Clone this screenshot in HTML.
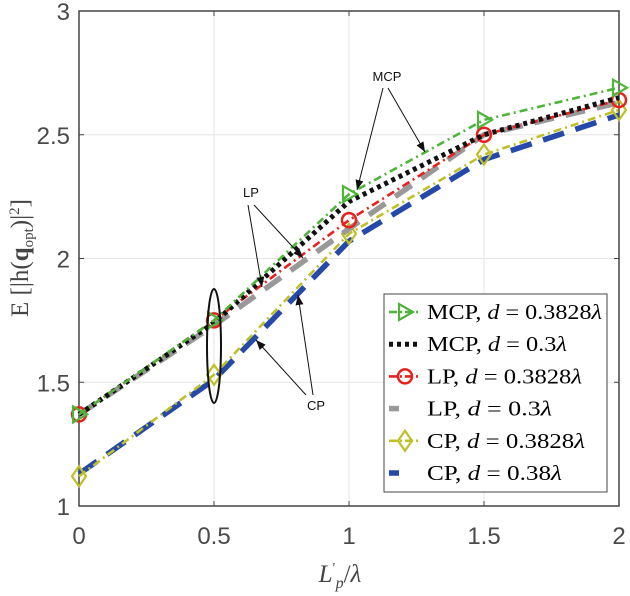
<!DOCTYPE html>
<html><head><meta charset="utf-8"><style>
body{margin:0;background:#fff}
svg{display:block;font-family:"Liberation Sans",sans-serif}
.tk{font-size:24px;fill:#4a4a4a}
.lg{font-family:"Liberation Serif",serif;font-size:21px;fill:#000}
</style></head><body>
<svg id="c" width="630" height="596">
<g id="grid"></g>
<g id="series"></g>
<g id="ann"></g>
<g id="legend"></g>
</svg>
<script>
const xVals=[0,0.5,1,1.5,2];
const mcp38=[1.37,1.75,2.26,2.56,2.69];
const mcp30=[1.37,1.74,2.23,2.50,2.65];
const lp38=[1.37,1.75,2.155,2.50,2.64];
const lp30=[1.37,1.73,2.12,2.50,2.63];
const cp38=[1.12,1.53,2.10,2.42,2.60];
const cp38b=[1.13,1.51,2.07,2.40,2.58];
const xTicks=[0,0.5,1,1.5,2];
const yTicks=[1,1.5,2,2.5,3];
const yTickLabels=["1","1.5","2","2.5","3"];
const xTickLabels=["0","0.5","1","1.5","2"];
const NS="http://www.w3.org/2000/svg";
const X0=79,X1=619,Y0=506,Y1=11;
const sx=v=>X0+(v-0)/2*(X1-X0);
const sy=v=>Y0-(v-1)/2*(Y0-Y1);
function mk(t,a,p){const e=document.createElementNS(NS,t);for(const k in a)e.setAttribute(k,a[k]);(p||document.getElementById('c')).appendChild(e);return e;}
const grid=document.getElementById('grid');
xTicks.forEach((v,i)=>{
 const l=mk('line',{x1:sx(v),x2:sx(v),y1:Y1,y2:Y0,stroke:'#e6e6e6','stroke-width':1},grid);
 
 
 mk('line',{x1:sx(v),x2:sx(v),y1:Y0,y2:Y0-5,stroke:'#444'},grid);
 mk('line',{x1:sx(v),x2:sx(v),y1:Y1,y2:Y1+5,stroke:'#444'},grid);
 const t=mk('text',{x:sx(v),y:Y0+38,'text-anchor':'middle',class:'tk'},grid);
 t.textContent=xTickLabels[i];
 
 
});
yTicks.forEach((v,i)=>{
 const l=mk('line',{x1:X0,x2:X1,y1:sy(v),y2:sy(v),stroke:'#e6e6e6','stroke-width':1},grid);
 
 
 mk('line',{x1:X0,x2:X0+5,y1:sy(v),y2:sy(v),stroke:'#444'},grid);
 mk('line',{x1:X1,x2:X1-5,y1:sy(v),y2:sy(v),stroke:'#444'},grid);
 const t=mk('text',{x:X0-9,y:sy(v)+9,'text-anchor':'end',class:'tk'},grid);
 t.textContent=yTickLabels[i];
 
 
});
const fr=mk('rect',{x:X0,y:Y1,width:X1-X0,height:Y0-Y1,fill:'none',stroke:'#444','stroke-width':1.5},grid);


const S=document.getElementById('series');
function marker(kind,x,y,col,p){
 if(kind==='tri')mk('polygon',{points:`${x-6},${y-8} ${x-6},${y+8} ${x+8},${y}`,fill:'none',stroke:col,'stroke-width':2.2},p);
 if(kind==='circ')mk('circle',{cx:x,cy:y,r:7,fill:'none',stroke:col,'stroke-width':2.5},p);
 if(kind==='dia')mk('polygon',{points:`${x},${y-10} ${x+7},${y} ${x},${y+10} ${x-7},${y}`,fill:'none',stroke:col,'stroke-width':2.2},p);
}
const series=[
 {d:cp38b,col:'#2449a8',w:5.5,dash:'22 12',m:null,name:'series-cp-0.38'},
 {d:cp38,col:'#bfbf26',w:2.6,dash:'8 4 2 4',m:'dia',name:'series-cp-0.3828'},
 {d:lp30,col:'#999',w:5.5,dash:'20 12',m:null,name:'series-lp-0.3'},
 {d:lp38,col:'#e8201e',w:2.6,dash:'8 4 2 4',m:'circ',name:'series-lp-0.3828'},
 {d:mcp30,col:'#111',w:5,dash:'4 4',m:null,name:'series-mcp-0.3'},
 {d:mcp38,col:'#4fb43a',w:2.6,dash:'8 4 2 4',m:'tri',name:'series-mcp-0.3828'}
];
series.forEach(s=>{
 const g=mk('g',{},S);
 
 
 mk('polyline',{points:xVals.map((x,i)=>sx(x)+','+sy(s.d[i])).join(' '),fill:'none',stroke:s.col,'stroke-width':s.w,'stroke-dasharray':s.dash},g);
 if(s.m)xVals.forEach((x,i)=>marker(s.m,sx(x),sy(s.d[i]),s.col,g));
});
const A=document.getElementById('ann');
const defs=mk('defs',{},A);
const mkr=mk('marker',{id:'ar',markerWidth:10,markerHeight:8,refX:10,refY:4,orient:'auto',markerUnits:'userSpaceOnUse'},defs);
mk('polygon',{points:'0,0 10,4 0,8',fill:'#111'},mkr);
[[383,88,357,190],[388,88,425,152],[248,205,262,287],[254,205,303,258],[306,395,256,340],[313,395,298,295]].forEach(a=>{
 mk('line',{x1:a[0],y1:a[1],x2:a[2],y2:a[3],stroke:'#111','stroke-width':1,'marker-end':'url(#ar)'},A);
});
[['MCP',387,81],['LP',251,197],['CP',316,410]].forEach(t=>{
 const e=mk('text',{x:t[1],y:t[2],'text-anchor':'middle','font-size':13,fill:'#111'},A);e.textContent=t[0];
 
 
});
mk('ellipse',{cx:214,cy:346,rx:7,ry:57,fill:'none',stroke:'#111','stroke-width':2},A);
const L=document.getElementById('legend');
mk('rect',{x:384,y:294,width:223,height:198,fill:'#fff',stroke:'#444','stroke-width':1},L);
const labels=['MCP, <tspan font-style="italic">d</tspan> = 0.3828<tspan font-style="italic">λ</tspan>','MCP, <tspan font-style="italic">d</tspan> = 0.3<tspan font-style="italic">λ</tspan>','LP, <tspan font-style="italic">d</tspan> = 0.3828<tspan font-style="italic">λ</tspan>','LP, <tspan font-style="italic">d</tspan> = 0.3<tspan font-style="italic">λ</tspan>','CP, <tspan font-style="italic">d</tspan> = 0.3828<tspan font-style="italic">λ</tspan>','CP, <tspan font-style="italic">d</tspan> = 0.38<tspan font-style="italic">λ</tspan>'];
const order=[5,4,3,2,1,0];
order.forEach((si,r)=>{
 const s=series[si];const y=312+r*32.2;
 const g=mk('g',{},L);
 
 
 mk('line',{x1:389,x2:420,y1:y,y2:y,stroke:s.col,'stroke-width':s.w,'stroke-dasharray':s.m?'8 3 2 3':(si===4?'4 4':'10 100')},g);
 if(s.m)marker(s.m,405,y,s.col,g);
 const t=mk('text',{x:427,y:y+7,class:'lg',textLength:(r===1||r===3||r===5)?(r===5?135:(r===1?140:125)):(r===0?175:(r===2?155:158)),lengthAdjust:'spacingAndGlyphs'},g);t.innerHTML=labels[r];
});
const yl=mk('text',{transform:'translate(28,258) rotate(-90)','text-anchor':'middle','font-family':'Liberation Serif, serif','font-size':25,fill:'#444'});
yl.innerHTML='E [|h(<tspan font-weight="bold">q</tspan><tspan font-size="15" dy="5">opt</tspan><tspan dy="-5">)|</tspan><tspan font-size="15" dy="-9">2</tspan><tspan dy="9">]</tspan>';


const xl=mk('text',{x:340,y:582,'text-anchor':'middle','font-family':'Liberation Serif, serif','font-size':25,fill:'#444'});
xl.innerHTML='<tspan font-style="italic">L</tspan><tspan font-size="14" dy="-10">′</tspan><tspan font-size="16" dy="16" font-style="italic">p</tspan><tspan dy="-6">/</tspan><tspan font-style="italic">λ</tspan>';


</script>
</body></html>
